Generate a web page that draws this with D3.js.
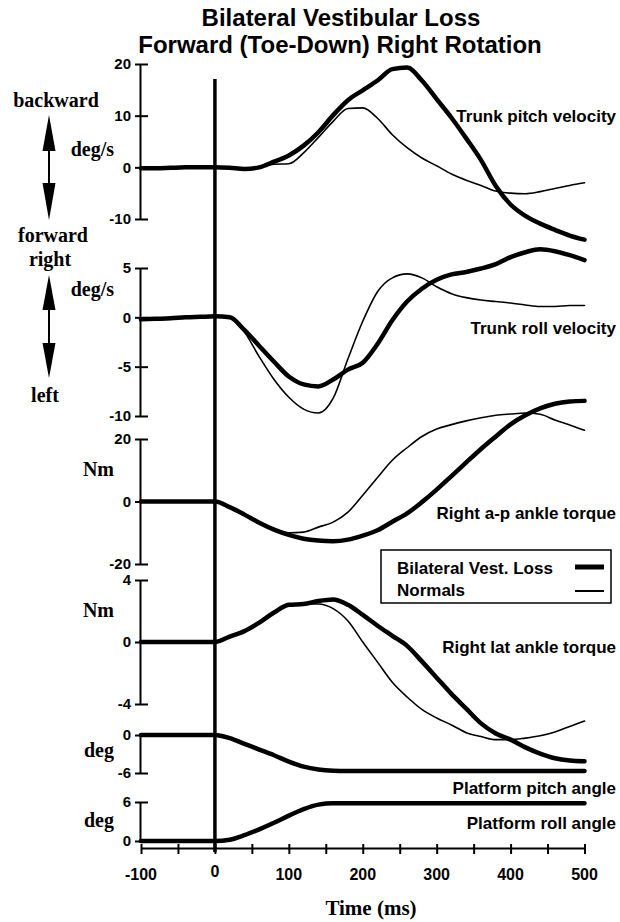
<!DOCTYPE html>
<html lang="en">
<head>
<meta charset="utf-8">
<style>
    body { margin: 0; background: #fff; }
    .sans { font-family: "Liberation Sans", Arial, sans-serif; font-weight: bold; }
    .serif { font-family: "Liberation Serif", "Times New Roman", serif; font-weight: bold; }
    .axis path, .axis line { stroke: #000; stroke-width: 2; }
    .axis text { font: bold 15px "Liberation Sans", Arial, sans-serif; fill: #000; }
    .trace { fill: none; stroke: #000; stroke-linejoin: round; stroke-linecap: round; }
</style>
</head>
<body>
<svg width="620" height="922"></svg>
<script src="https://cdn.jsdelivr.net/npm/d3@7"></script>
<script>

// ---- data ----
var timeMs = [-100, -80, -60, -40, -20, 0, 20, 40, 60, 80, 100, 120, 140, 160, 180, 200,
              220, 240, 260, 280, 300, 320, 340, 360, 380, 400, 420, 440, 460, 480, 500];

// trunk pitch velocity (deg/s)
var pitchBVL    = [-0.2, -0.2, -0.1, 0, 0, 0, -0.1, -0.3, 0, 1.1, 2.3, 4.2, 6.8, 10.1, 13.0, 14.9,
                   16.8, 19.0, 19.3, 16.8, 13.2, 9.6, 5.6, 1.4, -3.6, -7.2, -9.4, -10.9, -12.1, -13.2, -14];
var pitchNormal = [-0.2, -0.2, -0.1, 0, 0, 0, -0.1, -0.3, 0, 0.6, 0.7, 2.8, 5.8, 8.9, 11.4, 11.5,
                   9.5, 6.3, 3.8, 1.8, 0.3, -1.3, -2.5, -3.5, -4.6, -5.0, -5.1, -4.7, -4.1, -3.5, -3.0];

// trunk roll velocity (deg/s)
var rollBVL    = [-0.2, -0.15, -0.1, 0, 0.05, 0.1, 0, -1.3, -2.9, -4.5, -6.0, -6.8, -7.0, -6.3, -5.3, -4.6,
                  -2.7, -0.3, 1.6, 2.9, 3.8, 4.35, 4.6, 4.95, 5.4, 6.1, 6.6, 6.9, 6.7, 6.3, 5.8];
var rollNormal = [-0.2, -0.15, -0.1, 0, 0.05, 0.1, 0, -1.5, -4.0, -6.3, -8.1, -9.3, -9.7, -8.2, -4.2, -0.4,
                  2.6, 4.0, 4.4, 4.0, 3.1, 2.4, 2.0, 1.75, 1.6, 1.45, 1.25, 1.1, 1.1, 1.2, 1.2];

// right a-p ankle torque (Nm)
var apBVL    = [0, 0, 0, 0, 0, 0, -1.8, -4.2, -6.8, -9.0, -10.7, -11.9, -12.5, -12.7, -12.2, -10.9,
                -9.2, -6.5, -3.8, -0.2, 3.8, 8.1, 12.5, 16.8, 20.8, 24.7, 27.6, 29.8, 31.3, 32.0, 32.2];
var apNormal = [0, 0, 0, 0, 0, 0, -1.8, -4.2, -6.8, -8.8, -10.0, -9.8, -8.2, -6.6, -3.4, 2.0,
                7.7, 13.2, 17.2, 20.8, 23.2, 24.6, 25.8, 26.8, 27.6, 28.0, 28.3, 27.9, 26.1, 24.5, 22.8];

// right lateral ankle torque (Nm)
var latBVL    = [0, 0, 0, 0, 0, 0, 0.35, 0.7, 1.25, 1.9, 2.4, 2.45, 2.65, 2.75, 2.4, 1.75,
                 1.05, 0.4, -0.25, -1.25, -2.3, -3.35, -4.3, -5.25, -5.9, -6.3, -6.8, -7.2, -7.5, -7.65, -7.7];
var latNormal = [0, 0, 0, 0, 0, 0, 0.35, 0.7, 1.25, 1.9, 2.4, 2.45, 2.45, 2.15, 1.35, 0.0,
                 -1.3, -2.6, -3.55, -4.35, -4.9, -5.35, -5.85, -6.1, -6.3, -6.3, -6.2, -6.05, -5.8, -5.45, -5.1];

// platform angles (deg)
var platformPitch = [0, 0, 0, 0, 0, 0, -0.5, -1.4, -2.3, -3.2, -4.2, -5.0, -5.45, -5.65, -5.7, -5.7,
                     -5.7, -5.7, -5.7, -5.7, -5.7, -5.7, -5.7, -5.7, -5.7, -5.7, -5.7, -5.7, -5.7, -5.7, -5.7];
var platformRoll  = [0, 0, 0, 0, 0, 0, 0.2, 0.9, 1.8, 2.8, 3.9, 4.9, 5.6, 5.8, 5.8, 5.8,
                     5.8, 5.8, 5.8, 5.8, 5.8, 5.8, 5.8, 5.8, 5.8, 5.8, 5.8, 5.8, 5.8, 5.8, 5.8];

var panelNames = ["Trunk pitch velocity", "Trunk roll velocity", "Right a-p ankle torque",
                  "Right lat ankle torque", "Platform pitch angle", "Platform roll angle"];
var panelUnits = ["deg/s", "deg/s", "Nm", "Nm", "deg", "deg"];
var panelTicks = [[20, 10, 0, -10], [5, 0, -5, -10], [20, 0, -20], [4, 0, -4], [0, -6], [6, 0]];
var panelBVL = [pitchBVL, rollBVL, apBVL, latBVL, platformPitch, platformRoll];
var panelNormal = [pitchNormal, rollNormal, apNormal, latNormal, null, null];

var xTicks = [-100, 0, 100, 200, 300, 400, 500];
var xMinorTicks = [-100, -50, 0, 50, 100, 150, 200, 250, 300, 350, 400, 450, 500];
var legendLabels = ["Bilateral Vest. Loss", "Normals"];

// ---- layout ----
var svg = d3.select("svg");
var axisX = 140;
var panelRange = [[219, 64], [416, 268], [564, 439], [704, 580], [773, 735], [841, 802]];
var unitBaseline = [156, 296, 476, 617, 757, 827];
var nameBaseline = [122, 334, 519, 653, 794, 829];

var x = d3.scaleLinear().domain([-100, 500]).range([141, 584.5]);

// title
var title = svg.append("g").attr("class", "sans").attr("text-anchor", "middle").style("font-size", "24px");
title.append("text").attr("x", 341).attr("y", 26).text("Bilateral Vestibular Loss");
title.append("text").attr("x", 340).attr("y", 53).text("Forward (Toe-Down) Right Rotation");

// direction hints on the left
function arrow(cx, top, headBase1, headBase2, bottom) {
    var g = svg.append("g");
    g.append("line").attr("x1", cx).attr("x2", cx).attr("y1", headBase1).attr("y2", headBase2)
        .attr("stroke", "#000").attr("stroke-width", 2);
    g.append("path").attr("d", "M" + cx + "," + top + "L" + (cx + 6.5) + "," + headBase1 + "L" + (cx - 6.5) + "," + headBase1 + "Z");
    g.append("path").attr("d", "M" + cx + "," + bottom + "L" + (cx + 6.5) + "," + headBase2 + "L" + (cx - 6.5) + "," + headBase2 + "Z");
}
arrow(49, 115, 151, 183, 220);
arrow(49, 275, 310, 343, 378);

var dir = svg.append("g").attr("class", "serif").attr("text-anchor", "middle").style("font-size", "20px");
dir.append("text").attr("x", 56).attr("y", 107).text("backward");
dir.append("text").attr("x", 53).attr("y", 242).text("forward");
dir.append("text").attr("x", 50).attr("y", 266).text("right");
dir.append("text").attr("x", 45).attr("y", 402).text("left");

// panels
panelNames.forEach(function (name, i) {
    var ticks = panelTicks[i];
    var y = d3.scaleLinear().domain([d3.min(ticks), d3.max(ticks)]).range(panelRange[i]);

    var ax = svg.append("g").attr("class", "axis").attr("transform", "translate(" + axisX + ",0)");
    ax.call(d3.axisLeft(y).tickValues(ticks).tickSizeInner(5).tickSizeOuter(0).tickPadding(4)
        .tickFormat(function (d) { return String(d); }));
    ax.selectAll(".tick").append("line").attr("x1", 0).attr("x2", 8);

    svg.append("text").attr("class", "serif").attr("text-anchor", "end").style("font-size", "20px")
        .attr("x", 114).attr("y", unitBaseline[i]).text(panelUnits[i]);

    svg.append("text").attr("class", "sans").attr("text-anchor", "end").style("font-size", "17px")
        .attr("x", 616).attr("y", nameBaseline[i]).text(name);

    var line = d3.line()
        .x(function (d, j) { return x(timeMs[j]); })
        .y(function (d) { return y(d); })
        .curve(d3.curveMonotoneX);

    if (panelNormal[i]) {
        svg.append("path").datum(panelNormal[i]).attr("class", "trace")
            .attr("stroke-width", 1.6).attr("d", line);
    }
    svg.append("path").datum(panelBVL[i]).attr("class", "trace")
        .attr("stroke-width", 4.5).attr("d", line);
});

// stimulus onset line
svg.append("line").attr("x1", x(0)).attr("x2", x(0)).attr("y1", 79).attr("y2", 852)
    .attr("stroke", "#000").attr("stroke-width", 3.5);

// time axis
var xAxis = svg.append("g").attr("class", "axis").attr("transform", "translate(0,848)");
xAxis.call(d3.axisBottom(x).tickValues(xMinorTicks).tickSizeInner(6).tickSizeOuter(0).tickFormat(""));
xAxis.select(".domain").attr("stroke-width", 2.5);
xAxis.selectAll(".tick line").attr("y1", -4);
xAxis.selectAll(".xlabel").data(xTicks).enter().append("text")
    .attr("class", "xlabel").attr("text-anchor", "middle").style("font-size", "16px")
    .attr("x", function (d) { return x(d); }).attr("y", function (d) { return d === 0 ? 29 : 32; })
    .text(function (d) { return d; });

svg.append("text").attr("class", "serif").attr("text-anchor", "middle").style("font-size", "21px")
    .attr("x", 371).attr("y", 915).text("Time (ms)");

// legend
var legend = svg.append("g").attr("transform", "translate(381,550)");
legend.append("rect").attr("width", 230).attr("height", 53)
    .attr("fill", "#fff").attr("stroke", "#000").attr("stroke-width", 1.5);
legend.selectAll("text").data(legendLabels).enter().append("text")
    .attr("class", "sans").style("font-size", "17px")
    .attr("x", 16).attr("y", function (d, i) { return 24 + i * 22; })
    .text(function (d) { return d; });
legend.selectAll("line").data(legendLabels).enter().append("line")
    .attr("x1", 194).attr("x2", 223)
    .attr("y1", function (d, i) { return 17 + i * 24; })
    .attr("y2", function (d, i) { return 17 + i * 24; })
    .attr("stroke", "#000").attr("stroke-width", function (d, i) { return i === 0 ? 5 : 2; });

</script>
</body>
</html>
